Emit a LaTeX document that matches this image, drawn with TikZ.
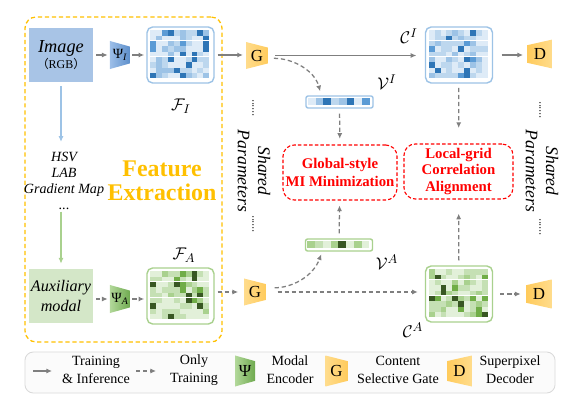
\documentclass[tikz,border=0pt]{standalone}
\usepackage{fontspec}
\setmainfont{Liberation Serif}
\newfontfamily\cjk{Noto Sans CJK SC}
\usetikzlibrary{arrows.meta}

\definecolor{arrowgray}{HTML}{7F7F7F}
\definecolor{imgblue}{HTML}{A8C4E6}
\definecolor{auxgreen}{HTML}{D4E7C8}
\definecolor{featgold}{HTML}{FFC000}
\definecolor{gateA}{HTML}{FFDC8C}
\definecolor{gateB}{HTML}{FFCB5C}
\definecolor{psiblueA}{HTML}{9CBEE8}
\definecolor{psiblueB}{HTML}{5D8FCB}
\definecolor{psigreenA}{HTML}{B2D89A}
\definecolor{psigreenB}{HTML}{6FAA4F}
\definecolor{hsvblue}{HTML}{9DC3E6}
\definecolor{hsvgreen}{HTML}{A9D18E}
\definecolor{legline}{HTML}{D9D9D9}
\definecolor{bl1}{HTML}{DEEBF7}
\definecolor{bl2}{HTML}{BDD7EE}
\definecolor{bl3}{HTML}{9DC3E6}
\definecolor{bl4}{HTML}{5B9BD5}
\definecolor{bl5}{HTML}{2E75B6}
\definecolor{blline}{HTML}{9DC3E6}
\definecolor{gr1}{HTML}{E2F0D9}
\definecolor{gr2}{HTML}{C5E0B4}
\definecolor{gr3}{HTML}{A9D18E}
\definecolor{gr4}{HTML}{70AD47}
\definecolor{gr5}{HTML}{385723}
\definecolor{grline}{HTML}{A9D18E}

% feature map: name, position, colour prefix, seed
\newcommand{\featmap}[4]{%
  \node[mapbox, draw=#3line] (#1) at #2 {};
  \pgfmathsetseed{#4}%
  \foreach \row in {0,...,8}{%
    \foreach \col in {0,...,9}{%
      \pgfmathrandominteger{\v}{1}{20}%
      \pgfmathtruncatemacro{\lvl}{\v<9 ? 1 : (\v<15 ? 2 : (\v<18 ? 3 : (\v<19 ? 4 : 5)))}%
      \fill[#3\lvl] ([shift={(4+5.9*\col,4+5.33*\row)}]#1.north west) rectangle ++(5.9,5.33);
    }%
  }%
  \draw[white, line width=0.7pt] ([shift={(4,14.7)}]#1.north west) -- ++(59,0);
  \draw[white, line width=0.7pt] ([shift={(4,30.7)}]#1.north west) -- ++(59,0);
}

% feature vector: name, position, colour prefix, levels
\newcommand{\featbar}[4]{%
  \node[barbox, draw=#3line] (#1) at #2 {};
  \foreach \lv [count=\i from 0] in {#4}
    \fill[#3\lv] ([shift={(2.5+7.75*\i,2.5)}]#1.north west) rectangle ++(7.75,7);
}

\begin{document}
\begin{tikzpicture}[
    x=0.025cm, y=-0.025cm,
    flow/.style={draw=arrowgray, line width=0.9pt, -{Latex[length=4pt,width=3.6pt]}},
    trainflow/.style={flow, dash pattern=on 3pt off 2pt},
    lightflow/.style={line width=0.8pt, -{Latex[length=4pt,width=3.6pt]}},
    mapbox/.style={rectangle, rounded corners=4pt, minimum width=1.675cm,
        minimum height=1.4cm, line width=1pt, fill=white, inner sep=0pt},
    barbox/.style={rectangle, rounded corners=1.5pt, minimum width=1.675cm,
        minimum height=0.3cm, line width=1pt, fill=white, inner sep=0pt},
    inbox/.style={rectangle, minimum width=1.6cm, minimum height=1.325cm,
        inner sep=0pt, align=center},
    encoder/.style={inner sep=0pt, path picture={
        \shade[#1] (path picture bounding box.north west)
          -- ([yshift=-4pt]path picture bounding box.north east)
          -- ([yshift=4pt]path picture bounding box.south east)
          -- (path picture bounding box.south west) -- cycle;}},
    decoder/.style={inner sep=0pt, path picture={
        \shade[#1] ([yshift=-4pt]path picture bounding box.north west)
          -- (path picture bounding box.north east)
          -- (path picture bounding box.south east)
          -- ([yshift=4pt]path picture bounding box.south west) -- cycle;}},
    psiblue/.style={encoder={left color=psiblueA, right color=psiblueB},
        minimum width=0.5cm, minimum height=0.7cm, font=\fontsize{10}{10}\selectfont},
    psigreen/.style={encoder={left color=psigreenA, right color=psigreenB},
        minimum width=0.5cm, minimum height=0.7cm, font=\fontsize{10}{10}\selectfont},
    gate/.style={encoder={left color=gateA, right color=gateB},
        minimum width=0.55cm, minimum height=0.675cm, font=\fontsize{12}{12}\selectfont},
    dec/.style={decoder={left color=gateB, right color=gateA},
        minimum width=0.625cm, minimum height=0.725cm, font=\fontsize{12}{12}\selectfont},
    redbox/.style={rectangle, draw=red, dash pattern=on 2.5pt off 1.5pt,
        rounded corners=8pt, line width=0.8pt, text=red, inner sep=0pt,
        font=\fontsize{10.5}{12.5}\selectfont\bfseries, align=center},
    maplabel/.style={font=\fontsize{13}{13}\selectfont},
    dots/.style={rotate=90, inner sep=0pt, font=\fontsize{8}{8}\selectfont},
    shared/.style={rotate=-90, align=center, inner sep=0pt,
        font=\fontsize{12.5}{14.5}\selectfont\itshape},
    legtext/.style={align=center, inner sep=0pt, font=\fontsize{10}{13}\selectfont}
]
\useasboundingbox (0,0) rectangle (571,406);

% frames
\node[draw=featgold, dash pattern=on 3pt off 2pt, rounded corners=8pt, line width=0.9pt,
    minimum width=4.925cm, minimum height=8.125cm] (frame) at (123.5,179.5) {};
\node[draw=legline, fill=gray!3, rounded corners=6pt, line width=0.6pt,
    minimum width=13.25cm, minimum height=1.025cm] (legend) at (290,372.5) {};

% image branch
\node[inbox, fill=imgblue] (img) at (61,55)
    {\fontsize{13}{15}\selectfont\itshape Image\\[-1pt]
     {\upshape\fontsize{8.5}{10}\selectfont{\cjk （}RGB{\cjk ）}}};
\node[psiblue] (psiI) at (120,55) {Ψ\textsubscript{\itshape I}};
\featmap{fI}{(180.5,55)}{bl}{7}
\node[gate] (gI) at (257,55.5) {G};
\featmap{cI}{(459,55)}{bl}{21}
\node[dec] (dI) at (540,54) {D};
\featbar{vI}{(339.5,102)}{bl}{1,3,5,2,3,5,1,4}

\node[maplabel] (fIlab) at (181,106) {$\mathcal{F}_{I}$};
\node[maplabel] (cIlab) at (409,36) {$\mathcal{C}^{I}$};
\node[maplabel] (vIlab) at (387,82) {$\mathcal{V}^{I}$};

% auxiliary branch
\node[inbox, fill=auxgreen, font=\fontsize{11.5}{14}\selectfont\itshape] (aux) at (61,296)
    {Auxiliary\\modal};
\node[psigreen] (psiA) at (120,299) {Ψ\textsubscript{\itshape A}};
\featmap{fA}{(180.5,296)}{gr}{3}
\node[gate] (gA) at (255,292) {G};
\featmap{cA}{(459,294)}{gr}{15}
\node[dec] (dA) at (539,294) {D};
\featbar{vA}{(339,245)}{gr}{3,2,1,3,5,1,3,1}

\node[maplabel] (fAlab) at (184,255) {$\mathcal{F}_{A}$};
\node[maplabel] (cAlab) at (413,330) {$\mathcal{C}^{A}$};
\node[maplabel] (vAlab) at (387,262) {$\mathcal{V}^{A}$};

% other modals
\node[align=center, inner sep=0pt, font=\fontsize{10}{11.5}\selectfont\itshape] (hsv) at (64,181)
    {HSV\\LAB\\Gradient Map\\{\upshape ...}};
\node[align=center, text=featgold, font=\fontsize{17}{17}\selectfont\bfseries] (feat) at (162,181)
    {Feature\\Extraction};

% losses
\node[redbox, minimum width=2.85cm, minimum height=1.375cm] (mi) at (340,172.5)
    {Global-style\\MI Minimization};
\node[redbox, minimum width=2.725cm, minimum height=1.375cm, font=\fontsize{10.5}{12}\selectfont\bfseries] (lg) at (458.5,171.5)
    {Local-grid\\Correlation\\Alignment};

% shared parameters
\node[dots] (dotsL1) at (253,108) {......};
\node[shared] (sharedL) at (254,171) {Shared\\Parameters};
\node[dots] (dotsL2) at (253,224) {......};
\node[dots] (dotsR1) at (540,110) {......};
\node[shared] (sharedR) at (542,171) {Shared\\Parameters};
\node[dots] (dotsR2) at (540,227) {......};

% connectors, image branch
\draw[flow, shorten <=2pt, shorten >=1.5pt] (img) -- (psiI);
\draw[flow, shorten <=1.5pt, shorten >=1.5pt] (psiI) -- (fI);
\draw[flow, shorten <=2pt, shorten >=2pt] (fI.east) -- (fI.east -| gI.west);
\draw[flow, shorten <=5pt, shorten >=6pt] (gI.east) -- (gI.east -| cI.west);
\draw[flow, shorten <=6pt, shorten >=3pt] (cI.east) -- (cI.east -| dI.west);
\draw[trainflow, shorten <=4pt, shorten >=3pt] ([yshift=-2pt]gI.east) to[out=0, in=105] ([xshift=-13pt]vI.north);
\draw[trainflow, shorten <=3.5pt, shorten >=4pt] (vI) -- (mi);
\draw[trainflow, shorten <=3pt, shorten >=11pt] (cI) -- (lg);

% connectors, auxiliary branch
\draw[trainflow, shorten <=2pt, shorten >=1.5pt] (aux.east |- psiA.west) -- (psiA.west);
\draw[trainflow, shorten <=1.5pt, shorten >=1.5pt] (psiA.east) -- (psiA.east -| fA.west);
\draw[trainflow, shorten <=2pt, shorten >=4pt] (fA.east |- gA.west) -- (gA.west);
\draw[trainflow, shorten <=8pt, shorten >=5pt] (gA.east) -- (gA.east -| cA.west);
\draw[trainflow, shorten <=5pt, shorten >=4pt] (cA) -- (dA);
\draw[trainflow, shorten <=6pt, shorten >=2pt] ([yshift=3pt]gA.east) to[out=0, in=-110] ([xshift=-12pt]vA.south);
\draw[trainflow, shorten <=3.5pt, shorten >=3.5pt] (vA) -- (mi);
\draw[trainflow, shorten <=3.5pt, shorten >=10pt] (cA) -- (lg);

% modal derivation
\draw[lightflow, draw=hsvblue, shorten <=3pt, shorten >=7pt] (img.south) -- (img.south |- hsv.north);
\draw[lightflow, draw=hsvgreen, shorten <=1pt, shorten >=4pt] (img.south |- hsv.south) -- (aux.north);

% legend
\coordinate (tiS) at (33,371);
\coordinate (tiE) at (52,371);
\draw[flow] (tiS) -- (tiE);
\node[legtext] (tiText) at (96,370) {Training\\\& Inference};
\coordinate (otS) at (136,371);
\coordinate (otE) at (156,371);
\draw[trainflow] (otS) -- (otE);
\node[legtext] (otText) at (194,370) {Only\\Training};
\node[psigreen, minimum height=0.775cm, font=\fontsize{12}{12}\selectfont] (legPsi) at (245,371) {Ψ};
\node[legtext] (psiText) at (290,370) {Modal\\Encoder};
\node[gate, minimum height=0.775cm] (legG) at (336.5,371) {G};
\node[legtext] (gText) at (398,370) {Content\\Selective Gate};
\node[dec, minimum height=0.775cm] (legD) at (459.5,371) {D};
\node[legtext] (dText) at (510,370) {Superpixel\\Decoder};

\end{tikzpicture}
\end{document}
